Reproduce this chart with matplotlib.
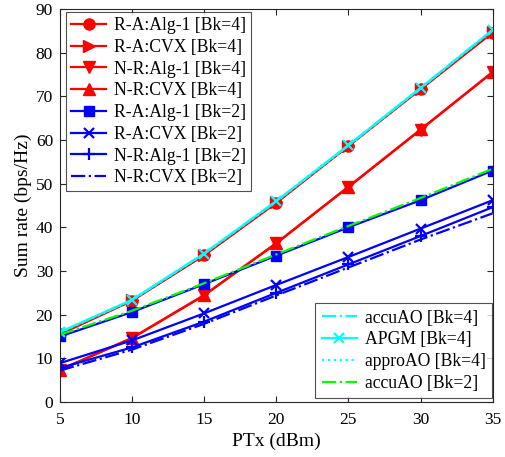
import matplotlib
matplotlib.use("Agg")
import matplotlib.pyplot as plt

plt.rcParams['font.family'] = ['Liberation Serif', 'DejaVu Serif']
plt.rcParams['mathtext.fontset'] = 'stix'

ptx = [5, 10, 15, 20, 25, 30, 35]

ra_alg1_bk4 = [15.5, 23.2, 33.6, 45.6, 58.6, 71.6, 84.6]
ra_cvx_bk4 = [15.6, 23.3, 33.7, 45.7, 58.7, 71.7, 84.7]
nr_alg1_bk4 = [7.3, 14.6, 24.4, 36.3, 49.2, 62.3, 75.5]
nr_cvx_bk4 = [7.4, 14.7, 24.5, 36.4, 49.3, 62.4, 75.6]
ra_alg1_bk2 = [15.0, 20.6, 27.0, 33.5, 40.0, 46.2, 53.0]
ra_cvx_bk2 = [8.9, 14.1, 20.3, 26.8, 33.2, 39.7, 46.2]
nr_alg1_bk2 = [7.8, 12.5, 18.4, 25.0, 31.5, 38.0, 44.6]
nr_cvx_bk2 = [7.2, 12.0, 17.9, 24.4, 30.8, 37.2, 43.2]

accuao_bk4 = [16.0, 23.4, 34.0, 46.0, 58.8, 71.9, 85.2]
apgm_bk4 = [16.0, 23.4, 34.0, 46.0, 58.8, 71.9, 85.2]
approao_bk4 = [15.9, 23.3, 33.9, 45.9, 58.7, 71.8, 85.1]
accuao_bk2 = [15.4, 20.9, 27.2, 33.8, 40.3, 46.7, 53.4]

fig = plt.figure(figsize=(5.06, 4.57), dpi=100)
ax = fig.add_axes([0.1186, 0.1204, 0.855, 0.860])

lw = 1.6
h = []
h += ax.plot(ptx, ra_alg1_bk4, '-o', color='red', lw=lw, ms=8, label='R-A:Alg-1 [Bk=4]')
h += ax.plot(ptx, ra_cvx_bk4, '->', color='red', lw=lw, ms=8, label='R-A:CVX [Bk=4]')
h += ax.plot(ptx, nr_alg1_bk4, '-v', color='red', lw=lw, ms=8, label='N-R:Alg-1 [Bk=4]')
h += ax.plot(ptx, nr_cvx_bk4, '-^', color='red', lw=lw, ms=8, label='N-R:CVX [Bk=4]')
h += ax.plot(ptx, ra_alg1_bk2, '-s', color='#0000ff', lw=lw, ms=7, label='R-A:Alg-1 [Bk=2]')
h += ax.plot(ptx, ra_cvx_bk2, '-x', color='#0000ff', lw=lw, ms=7, mew=1.6, label='R-A:CVX [Bk=2]')
h += ax.plot(ptx, nr_alg1_bk2, '-+', color='#0000ff', lw=lw, ms=9, mew=1.6, label='N-R:Alg-1 [Bk=2]')
h += ax.plot(ptx, nr_cvx_bk2, '-.', color='#0000ff', lw=lw, label='N-R:CVX [Bk=2]')

h2 = []
h2 += ax.plot(ptx, accuao_bk4, '-.', color='cyan', lw=lw, label='accuAO [Bk=4]')
h2 += ax.plot(ptx, apgm_bk4, '-x', color='cyan', lw=lw, ms=7, mew=1.6, label='APGM [Bk=4]')
h2 += ax.plot(ptx, approao_bk4, ':', color='cyan', lw=lw, label='approAO [Bk=4]')
h2 += ax.plot(ptx, accuao_bk2, '-.', color='#00ff00', lw=lw, label='accuAO [Bk=2]')

ax.set_xlim(5, 35)
ax.set_ylim(0, 90)
ax.set_xticks([5, 10, 15, 20, 25, 30, 35])
ax.set_yticks(range(0, 91, 10))
ax.tick_params(direction='in', top=True, right=True, labelsize=12.5, length=4, color='#262626')
ax.tick_params(axis='x', pad=7.5)
ax.tick_params(axis='y', pad=5)
for s in ax.spines.values():
    s.set_color('#262626')
    s.set_linewidth(0.8)
ax.set_xlabel('PTx (dBm)', fontsize=14, labelpad=3)
ax.set_ylabel('Sum rate (bps/Hz)', fontsize=14, labelpad=3)

leg1 = ax.legend(handles=h, loc='upper left', bbox_to_anchor=(0.0139, 0.992), fontsize=12.7,
                 frameon=True, fancybox=False, edgecolor='#262626', handlelength=2.0,
                 handletextpad=0.45, labelspacing=0.27, borderpad=0.28, borderaxespad=0.0)
leg1.get_frame().set_linewidth(0.8)
ax.add_artist(leg1)
leg2 = ax.legend(handles=h2, loc='lower right', bbox_to_anchor=(0.998, 0.010), fontsize=12.7,
                 frameon=True, fancybox=False, edgecolor='#262626', handlelength=2.0,
                 handletextpad=0.45, labelspacing=0.27, borderpad=0.35, borderaxespad=0.0)
leg2.get_frame().set_linewidth(0.8)

fig.savefig('out.png', dpi=100)
